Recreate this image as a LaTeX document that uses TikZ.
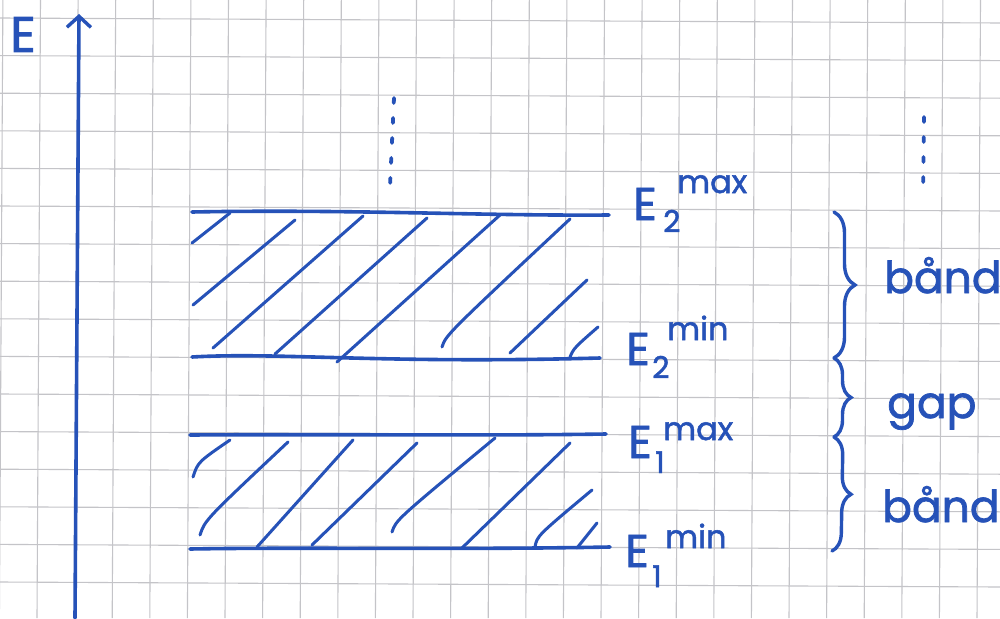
\documentclass[tikz,border=0pt]{standalone}
\usepackage{fontspec}
\setmainfont{Poppins}[FakeBold=1.6]
\usetikzlibrary{arrows.meta,decorations.pathreplacing}
\definecolor{ink}{RGB}{38,82,184}
\definecolor{gridc}{RGB}{196,196,200}
\tikzset{
  pen/.style={draw=ink,line width=3.6pt,line cap=round,line join=round},
  hatch/.style={draw=ink,line width=3pt,line cap=round},
  gridline/.style={draw=gridc,line width=1.1pt},
  lbl/.style={text=ink,inner sep=0pt,anchor=base west},
  bigE/.style={lbl,font=\fontsize{46}{46}\selectfont},
  idx/.style={lbl,font=\fontsize{30}{30}\selectfont},
  sup/.style={lbl,font=\fontsize{32}{32}\selectfont},
  word/.style={lbl,font=\fontsize{44}{44}\selectfont},
  bracestyle/.style={draw=ink,line width=3.4pt,line cap=round,
    decorate,decoration={brace,amplitude=21pt}},
  dots/.style={draw=ink,line width=3.8pt,line cap=round,dash pattern=on 5pt off 15pt}
}
\begin{document}
\begin{tikzpicture}[x=1pt,y=-1pt]
\useasboundingbox (0,0) rectangle (1000,618);
\fill[white] (0,0) rectangle (1000,618);
% squared paper
\begin{scope}
\clip (0,0) rectangle (1000,618);
\foreach \k in {-1,...,17}{
  \draw[gridline] (0,18+37.6*\k) -- (1000,23+37.6*\k);
}
\foreach \k in {-1,...,27}{
  \draw[gridline] (2.9+37.6*\k,0) -- (-0.6+37.6*\k,618);
}
\end{scope}
% energy axis
\coordinate (axb) at (75,618);
\coordinate (axt) at (79,14);
\draw[pen,-{Straight Barb[length=11pt,width=24pt,line width=3.4pt]}] (axb) -- (axt);
\node[lbl,font=\fontsize{50}{50}\selectfont] (E) at (10,52) {E};
% band 2
\coordinate (b2tl) at (192,212); \coordinate (b2tr) at (609,215);
\coordinate (b2bl) at (192,357); \coordinate (b2br) at (600,358);
\draw[pen] (b2tl) .. controls (350,209) and (480,216) .. (b2tr);
\draw[pen] (b2bl) .. controls (280,352) and (380,364) .. (b2br);
\draw[hatch] (192,243) -- (230,213);
\draw[hatch] (193,305) -- (295,220);
\draw[hatch] (213,348) -- (363,216);
\draw[hatch] (275,354) -- (427,218);
\draw[hatch] (337,362) -- (500,215);
\draw[hatch] (442,347) .. controls (446,335) .. (570,219);
\draw[hatch] (510,353) -- (587,280);
\draw[hatch] (570,357) .. controls (574,348) .. (598,327);
% band 1
\coordinate (b1tl) at (190,435); \coordinate (b1tr) at (606,434);
\coordinate (b1bl) at (190,549); \coordinate (b1br) at (610,547);
\draw[pen] (b1tl) .. controls (350,434) and (480,436) .. (b1tr);
\draw[pen] (b1bl) .. controls (300,547) and (450,550) .. (b1br);
\draw[hatch] (193,477) .. controls (198,462) .. (230,440);
\draw[hatch] (200,535) .. controls (205,520) .. (288,442);
\draw[hatch] (257,547) -- (353,440);
\draw[hatch] (312,545) -- (417,443);
\draw[hatch] (392,532) .. controls (396,520) .. (495,438);
\draw[hatch] (462,548) -- (570,443);
\draw[hatch] (535,547) .. controls (537,536) .. (592,490);
\draw[hatch] (577,548) -- (597,523);
% continuation marks
\coordinate (d1t) at (394,98); \coordinate (d1b) at (390,186);
\coordinate (d2t) at (924,117); \coordinate (d2b) at (923,192);
\draw[dots] (d1t) -- (d1b);
\draw[dots] (d2t) -- (d2b);
% level labels
\node[bigE] (E2x) at (633,220) {E};
\node[idx]  (E2xs) at (663,232) {2};
\node[sup]  (E2xm) at (677,193) {max};
\node[bigE] (E2n) at (626,365) {E};
\node[idx]  (E2ns) at (652,378) {2};
\node[sup]  (E2nm) at (667,340) {min};
\node[bigE] (E1x) at (628,458) {E};
\node[idx]  (E1xs) at (655,473) {1};
\node[sup]  (E1xm) at (663,440) {max};
\node[bigE] (E1n) at (625,567) {E};
\node[idx]  (E1ns) at (652,587) {1};
\node[sup]  (E1nm) at (665,548) {min};
% braces
\coordinate (br1) at (834,212);
\coordinate (br2) at (834,358);
\coordinate (br3) at (834,437);
\coordinate (br4) at (832,551);
\draw[bracestyle] (br1) -- (br2);
\draw[bracestyle,decoration={brace,amplitude=17pt}] (br2) -- (br3);
\draw[bracestyle,decoration={brace,amplitude=18pt}] (br3) -- (br4);
\node[word] (w1) at (884,293) {bånd};
\node[word] (w2) at (887,418) {gap};
\node[word] (w3) at (882,522) {bånd};
\end{tikzpicture}
\end{document}
